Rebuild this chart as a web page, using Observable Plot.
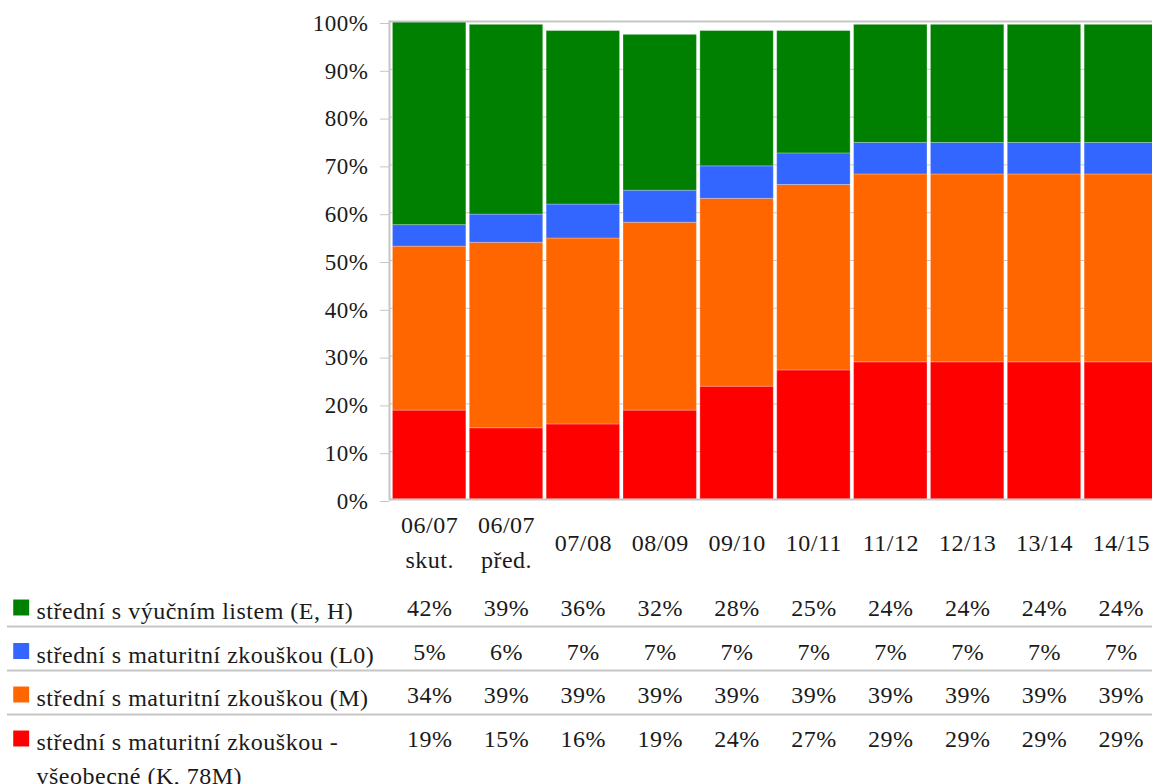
<!DOCTYPE html>
<html><head><meta charset="utf-8">
<script src="https://cdn.jsdelivr.net/npm/d3@7"></script>
<script src="https://cdn.jsdelivr.net/npm/@observablehq/plot@0.6"></script>
<style>html,body{margin:0;padding:0;background:#fff;overflow:hidden;width:1152px;height:784px}
#chart svg{max-width:none !important}
#chart svg text{letter-spacing:0.5px}</style>
</head><body><div id="chart"></div>
<script>
// categories (school years)
const categories = ["06/07 skut.", "06/07 před.", "07/08", "08/09", "09/10", "10/11", "11/12", "12/13", "13/14", "14/15"];
const categoryLabels = ["06/07\nskut.", "06/07\npřed.", "07/08", "08/09", "09/10", "10/11", "11/12", "12/13", "13/14", "14/15"];

// series (top to bottom in legend)
const seriesNames = [
  "střední s výučním listem (E, H)",
  "střední s maturitní zkouškou (L0)",
  "střední s maturitní zkouškou (M)",
  "střední s maturitní zkouškou - všeobecné (K, 78M)"
];
const seriesLegendLabels = [
  "střední s výučním listem (E, H)",
  "střední s maturitní zkouškou (L0)",
  "střední s maturitní zkouškou (M)",
  "střední s maturitní zkouškou -\nvšeobecné (K, 78M)"
];
const seriesColors = ["#008000", "#3366ff", "#ff6600", "#ff0000"];

// bar segment heights (percent)
const valuesEH = [42.6, 39.7, 36.3, 32.6, 28.3, 25.6, 24.7, 24.7, 24.7, 24.7];
const valuesL0 = [4.5, 5.9, 7.1, 6.7, 6.8, 6.6, 6.6, 6.6, 6.6, 6.6];
const valuesM  = [34.3, 38.8, 38.9, 39.3, 39.3, 38.8, 39.3, 39.3, 39.3, 39.3];
const valuesK  = [18.6, 14.9, 15.7, 18.6, 23.6, 27.0, 28.7, 28.7, 28.7, 28.7];

// values as printed in the data table (percent)
const tableEH = [42, 39, 36, 32, 28, 25, 24, 24, 24, 24];
const tableL0 = [5, 6, 7, 7, 7, 7, 7, 7, 7, 7];
const tableM  = [34, 39, 39, 39, 39, 39, 39, 39, 39, 39];
const tableK  = [19, 15, 16, 19, 24, 27, 29, 29, 29, 29];

// y axis ticks
const yTicks = [0, 10, 20, 30, 40, 50, 60, 70, 80, 90, 100];

// ---- build ----
const seriesValues = [valuesEH, valuesL0, valuesM, valuesK];
const tableValues = [tableEH, tableL0, tableM, tableK];
const stackOrder = [3, 2, 1, 0]; // bottom to top
const long = [];
categories.forEach((c, i) => {
  stackOrder.forEach(k => long.push({category: c, series: seriesNames[k], value: seriesValues[k][i]}));
});

const W = 1170, H = 784, mL = 389, mR = 9, mT = 21, mB = 285;
const base = H - mB; // y of 0%
const rowCenters = [608, 651.5, 695, 739];
const labelCenters = [608, 651.5, 695, 756];
const separators = [626, 670, 714];
const GRID = "#c6c6c6";
const FONT = "'Liberation Serif', 'Times New Roman', serif";
const FS = 24;
const INK = "#1a1a1a";

const marks = [
  Plot.gridY(yTicks, {stroke: GRID, strokeOpacity: 1}),
  Plot.barY(long, {x: "category", y: "value", fill: "series", stroke: "#ffffff", strokeOpacity: 0.25, strokeWidth: 1}),
  Plot.axisY(yTicks, {label: null, tickSize: 9, tickPadding: 12, tickFormat: d => d + "%", stroke: GRID, strokeOpacity: 1, dy: 2, fill: INK, fontSize: 23, fontFamily: FONT}),
  Plot.ruleY([0], {stroke: GRID, strokeWidth: 2}),
  Plot.ruleY([100], {stroke: GRID, strokeWidth: 2}),
  Plot.frame({anchor: "left", stroke: GRID, strokeWidth: 2}),
  Plot.text(categories, {x: d => d, text: (d, i) => categoryLabels[i], frameAnchor: "bottom", lineAnchor: "middle", dy: 40, lineHeight: 35 / FS, fill: INK, fontSize: FS, fontFamily: FONT})
];

seriesNames.forEach((s, k) => {
  marks.push(
    Plot.dot([s], {frameAnchor: "bottom-left", dx: 20.7 - mL, dy: rowCenters[k] - 1 - base, symbol: "square", r: 9, fill: seriesColors[k], stroke: null}),
    Plot.text([seriesLegendLabels[k]], {frameAnchor: "bottom-left", dx: 36 - mL, dy: labelCenters[k] - base, text: d => d, textAnchor: "start", lineAnchor: "middle", lineHeight: 34 / FS, fill: INK, fontSize: FS, fontFamily: FONT}),
    Plot.text(categories, {x: d => d, text: (d, i) => tableValues[k][i] + "%", frameAnchor: "bottom", dy: rowCenters[k] - base, lineAnchor: "middle", fill: INK, fontSize: FS, fontFamily: FONT})
  );
});
separators.forEach(y => {
  marks.push(Plot.ruleY([0], {dy: y - base, insetLeft: -(mL - 7), insetRight: 0, stroke: GRID, strokeWidth: 2}));
});

const chart = Plot.plot({
  width: W, height: H,
  marginTop: mT, marginBottom: mB, marginLeft: mL, marginRight: mR,
  x: {domain: categories, padding: 0.045, round: false, axis: null},
  y: {domain: [0, 100], axis: null},
  color: {domain: seriesNames, range: seriesColors},
  style: `font-family: ${FONT}; font-size: ${FS}px; color: ${INK}; max-width: none; background: #fff;`,
  marks
});
document.getElementById("chart").appendChild(chart);
</script>
</body></html>
